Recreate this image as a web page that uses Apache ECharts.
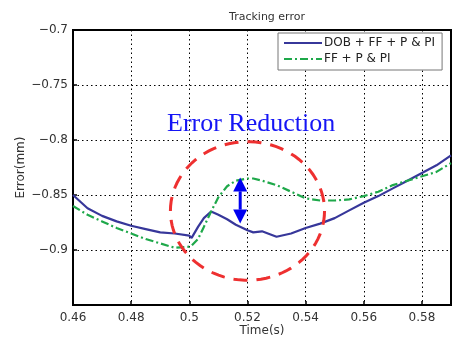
<!DOCTYPE html>
<html>
<head>
<meta charset="utf-8">
<script src="https://cdn.jsdelivr.net/npm/echarts@6/dist/echarts.min.js"></script>
<style>
html, body { margin: 0; padding: 0; background: #fff; }
#main { width: 453px; height: 338px; }
</style>
</head>
<body>
<div id="main"></div>
<script>
// time samples (s)
var timeData = [0.46, 0.465, 0.47, 0.475, 0.48, 0.485, 0.49, 0.495, 0.5, 0.5008, 0.503, 0.505, 0.5075,
    0.51, 0.513, 0.516, 0.52, 0.522, 0.525, 0.53, 0.535, 0.54, 0.545, 0.55, 0.555, 0.56, 0.565, 0.57,
    0.575, 0.58, 0.585, 0.59];
// DOB + FF + P & PI
var dobData = [-0.85, -0.862, -0.869, -0.874, -0.878, -0.881, -0.884, -0.885, -0.887, -0.889, -0.879, -0.871, -0.865,
    -0.868, -0.872, -0.877, -0.882, -0.884, -0.883, -0.888, -0.885, -0.880, -0.876, -0.871, -0.864, -0.857, -0.851, -0.844,
    -0.837, -0.830, -0.823, -0.814];
// FF + P & PI
var ffData = [-0.86, -0.868, -0.874, -0.880, -0.885, -0.890, -0.894, -0.898, -0.897, -0.896, -0.890, -0.879, -0.865,
    -0.852, -0.842, -0.837, -0.835, -0.835, -0.837, -0.841, -0.847, -0.853, -0.855, -0.855, -0.854, -0.851, -0.847, -0.841,
    -0.837, -0.833, -0.829, -0.821];

var seriesNames = ['DOB + FF + P & PI', 'FF + P & PI'];
var yTicks = [-0.7, -0.75, -0.8, -0.85, -0.9];

// annotation: ellipse [cx, cy, rx, ry] and double arrow [x, yTop, yBottom]
var circleData = [[0.52, -0.8645, 0.0265, 0.063]];
var arrowData = [[0.5175, -0.834, -0.876]];

function zip(xs, ys) {
    var out = [];
    for (var i = 0; i < xs.length; i++) out.push([xs[i], ys[i]]);
    return out;
}

function minusFmt(v) {
    var r = Math.round(v * 1000) / 1000;
    var hit = false;
    for (var i = 0; i < yTicks.length; i++) if (Math.abs(yTicks[i] - r) < 1e-6) hit = true;
    if (!hit) return '';
    return String(r).replace('-', '\u2212');
}

function renderEllipse(params, api) {
    var c = api.coord([api.value(0), api.value(1)]);
    var s = api.size([api.value(2), api.value(3)]);
    var pts = [];
    for (var i = 0; i <= 90; i++) {
        var a = i / 90 * 2 * Math.PI;
        pts.push([c[0] + s[0] * Math.cos(a), c[1] + s[1] * Math.sin(a)]);
    }
    return {
        type: 'polyline',
        shape: { points: pts },
        style: { stroke: '#ee3030', lineWidth: 3, lineDash: [14, 9], fill: null }
    };
}

function renderArrow(params, api) {
    var top = api.coord([api.value(0), api.value(1)]);
    var bot = api.coord([api.value(0), api.value(2)]);
    var x = top[0], h = 14, w = 7;
    return {
        type: 'group',
        children: [
            { type: 'line', shape: { x1: x, y1: top[1] + h, x2: x, y2: bot[1] - h },
              style: { stroke: '#0000f0', lineWidth: 3 } },
            { type: 'polygon', shape: { points: [[x, top[1]], [x - w, top[1] + h], [x + w, top[1] + h]] },
              style: { fill: '#0000f0' } },
            { type: 'polygon', shape: { points: [[x, bot[1]], [x - w, bot[1] - h], [x + w, bot[1] - h]] },
              style: { fill: '#0000f0' } }
        ]
    };
}

var myChart = echarts.init(document.getElementById('main'));
var option = {
    animation: false,
    textStyle: { fontFamily: 'DejaVu Sans' },
    title: {
        text: 'Tracking error',
        left: 262, top: 7, textAlign: 'center',
        textStyle: { fontSize: 11, color: '#333', fontWeight: 'normal' }
    },
    grid: {
        left: 73, right: 2, top: 30, bottom: 33,
        outerBoundsMode: 'none',
        show: true, borderColor: '#000', borderWidth: 2, backgroundColor: '#fff'
    },
    legend: {
        data: seriesNames,
        orient: 'vertical',
        left: 278, top: 33,
        padding: [4, 7, 5, 5],
        itemGap: 4,
        itemWidth: 38, itemHeight: 12,
        itemStyle: { opacity: 0 },
        backgroundColor: '#fff',
        borderColor: '#777', borderWidth: 1, borderRadius: 0,
        textStyle: { fontSize: 12, color: '#222', padding: [0, 0, 0, -3] }
    },
    xAxis: {
        type: 'value', min: 0.46, max: 0.59, interval: 0.02,
        name: 'Time(s)', nameLocation: 'middle', nameGap: 20,
        nameMoveOverlap: false,
        nameTextStyle: { fontSize: 12, color: '#333' },
        axisLine: { lineStyle: { color: '#000', width: 2 } },
        axisTick: { inside: true, length: 4, lineStyle: { color: '#000', width: 1.5 } },
        axisLabel: { fontSize: 12, color: '#333', margin: 7, showMaxLabel: false,
            formatter: function (v) { return String(Math.round(v * 100) / 100); } },
        splitLine: { show: true, lineStyle: { color: '#000', type: [1.5, 3], width: 1 } }
    },
    yAxis: {
        type: 'value', min: -0.95, max: -0.7, interval: 0.05,
        name: 'Error(mm)', nameLocation: 'middle', nameGap: 46, nameRotate: 90,
        nameMoveOverlap: false,
        nameTextStyle: { fontSize: 12, color: '#333' },
        axisLine: { show: true, lineStyle: { color: '#000', width: 2 } },
        axisTick: { inside: true, length: 4, lineStyle: { color: '#000', width: 1.5 } },
        axisLabel: { fontSize: 12, color: '#333', margin: 5, formatter: minusFmt },
        splitLine: { show: true, lineStyle: { color: '#000', type: [1.5, 3], width: 1 } }
    },
    graphic: [{
        type: 'text', left: 167, top: 111, z: 100,
        style: { text: 'Error Reduction', font: '26px "Liberation Serif"', fill: '#1515f5' }
    }],
    series: [
        {
            name: seriesNames[0], type: 'line', data: zip(timeData, dobData),
            symbol: 'none', z: 3,
            lineStyle: { color: '#37379a', width: 2.2 },
            itemStyle: { color: '#37379a' }
        },
        {
            name: seriesNames[1], type: 'line', data: zip(timeData, ffData),
            symbol: 'none', z: 4,
            lineStyle: { color: '#1ea84a', width: 2.2, type: [8, 3, 2, 3] },
            itemStyle: { color: '#1ea84a' }
        },
        {
            type: 'custom', renderItem: renderEllipse, data: circleData, z: 5,
            encode: { x: 0, y: 1 }, silent: true
        },
        {
            type: 'custom', renderItem: renderArrow, data: arrowData, z: 6,
            encode: { x: 0, y: [1, 2] }, silent: true
        }
    ]
};
myChart.setOption(option);
</script>
</body>
</html>
